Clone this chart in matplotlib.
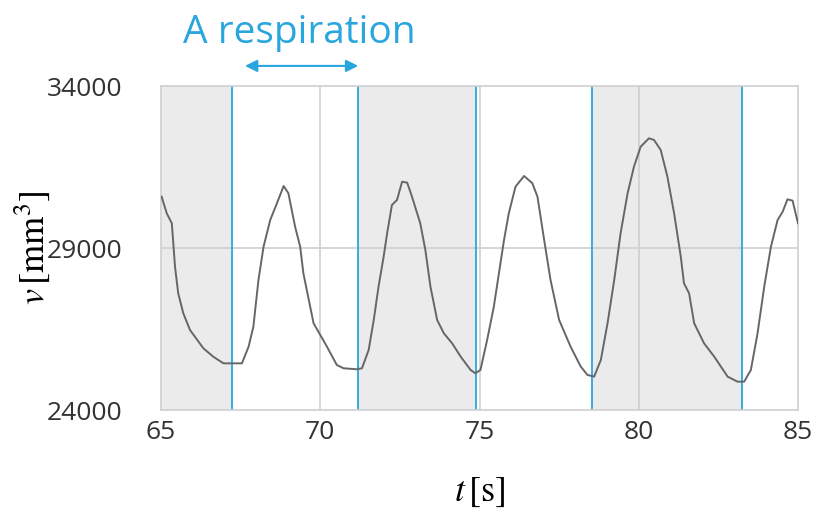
import numpy as np
import matplotlib.pyplot as plt

plt.rcParams['mathtext.fontset'] = 'stix'

# volume trace
t = [65.02, 65.18, 65.34, 65.44, 65.54, 65.70, 65.91, 66.33, 66.64, 66.96, 67.54,
     67.75, 67.90, 68.06, 68.22, 68.43, 68.64, 68.85, 69.00, 69.21, 69.37, 69.47,
     69.79, 70.21, 70.52, 70.73, 71.15, 71.31, 71.52, 71.68, 71.83, 71.99, 72.10,
     72.25, 72.41, 72.57, 72.73, 72.88, 73.14, 73.30, 73.46, 73.67, 73.88, 74.14,
     74.41, 74.72, 74.87, 75.03, 75.24, 75.45, 75.61, 75.77, 75.92, 76.13, 76.40,
     76.66, 76.82, 77.03, 77.23, 77.50, 77.86, 78.18, 78.39, 78.60, 78.81, 79.02,
     79.23, 79.43, 79.65, 79.85, 80.06, 80.32, 80.48, 80.69, 80.90, 81.11, 81.32,
     81.42, 81.58, 81.74, 82.05, 82.37, 82.79, 83.10, 83.31, 83.52, 83.73, 83.94,
     84.15, 84.36, 84.52, 84.67, 84.83, 85.00]
v = [30584, 30071, 29763, 28424, 27603, 26985, 26470, 25905, 25646, 25440, 25440,
     25955, 26572, 28013, 29041, 29865, 30380, 30914, 30689, 29658, 29041, 28220,
     26677, 25955, 25390, 25288, 25257, 25288, 25853, 26779, 27807, 28732, 29455,
     30327, 30482, 31047, 31016, 30584, 29763, 28939, 27807, 26779, 26368, 26059,
     25646, 25236, 25133, 25236, 26162, 27190, 28220, 29248, 30071, 30893, 31223,
     30997, 30584, 29248, 28013, 26779, 25955, 25338, 25082, 25030, 25544, 26677,
     28013, 29455, 30689, 31510, 32127, 32386, 32334, 32025, 31201, 30071, 28732,
     27911, 27603, 26677, 26059, 25646, 25030, 24875, 24875, 25236, 26368, 27807,
     29041, 29865, 30123, 30504, 30461, 29763]

# breath boundaries (minima)
breaths = [65, 67.24, 71.17, 74.89, 78.54, 83.24, 85]

x_ticks = [65, 70, 75, 80, 85]
y_ticks = [24000, 29000, 34000]

blue = '#29A6DE'
tick_font = 'Open Sans'

fig = plt.figure(figsize=(8.16, 5.18), dpi=100)
ax = fig.add_axes([161 / 816, 1 - 410 / 518, 637 / 816, 324 / 518])

# alternate shading between breaths
for i in range(len(breaths) - 1):
    if i % 2 == 0:
        ax.axvspan(breaths[i], breaths[i + 1], color='#EBEBEB', lw=0, zorder=0)

for xg in [70, 75, 80]:
    ax.axvline(xg, color='#CFCFCF', lw=1.2, zorder=1)
ax.axhline(29000, color='#CFCFCF', lw=1.2, zorder=1)

for b in breaths[1:-1]:
    ax.axvline(b, color=blue, lw=1.3, zorder=2)

ax.plot(t, v, color='#666666', lw=1.4, zorder=3)

ax.set_xlim(65, 85)
ax.set_ylim(24000, 34000)
ax.set_xticks(x_ticks)
ax.set_yticks(y_ticks)
ax.set_xticklabels([str(x) for x in x_ticks], fontfamily=tick_font, fontsize=19, color='#333333')
ax.set_yticklabels([str(y) for y in y_ticks], fontfamily=tick_font, fontsize=19, color='#333333')
ax.tick_params(axis='both', length=0)
ax.tick_params(axis='y', pad=28)
ax.tick_params(axis='x', pad=7)
for s in ax.spines.values():
    s.set_color('#D0D0D0')
    s.set_linewidth(1.2)

ax.set_xlabel(r'$t\,[\mathrm{s}]$', fontsize=26, labelpad=22)
ax.set_ylabel(r'$v\,[\mathrm{mm}^3]$', fontsize=26, labelpad=-4)

# "one breath" marker above the plot
ax.annotate('', xy=(67.55, 1.062), xytext=(71.28, 1.062),
            xycoords=('data', 'axes fraction'), textcoords=('data', 'axes fraction'),
            arrowprops=dict(arrowstyle='<|-|>', color=blue, lw=1.5, mutation_scale=18),
            annotation_clip=False)
ax.text(69.35, 1.165, 'A respiration', transform=ax.get_xaxis_transform(),
        ha='center', va='center', fontsize=28, color=blue, fontfamily='Open Sans')

fig.savefig('out.png', dpi=100)
